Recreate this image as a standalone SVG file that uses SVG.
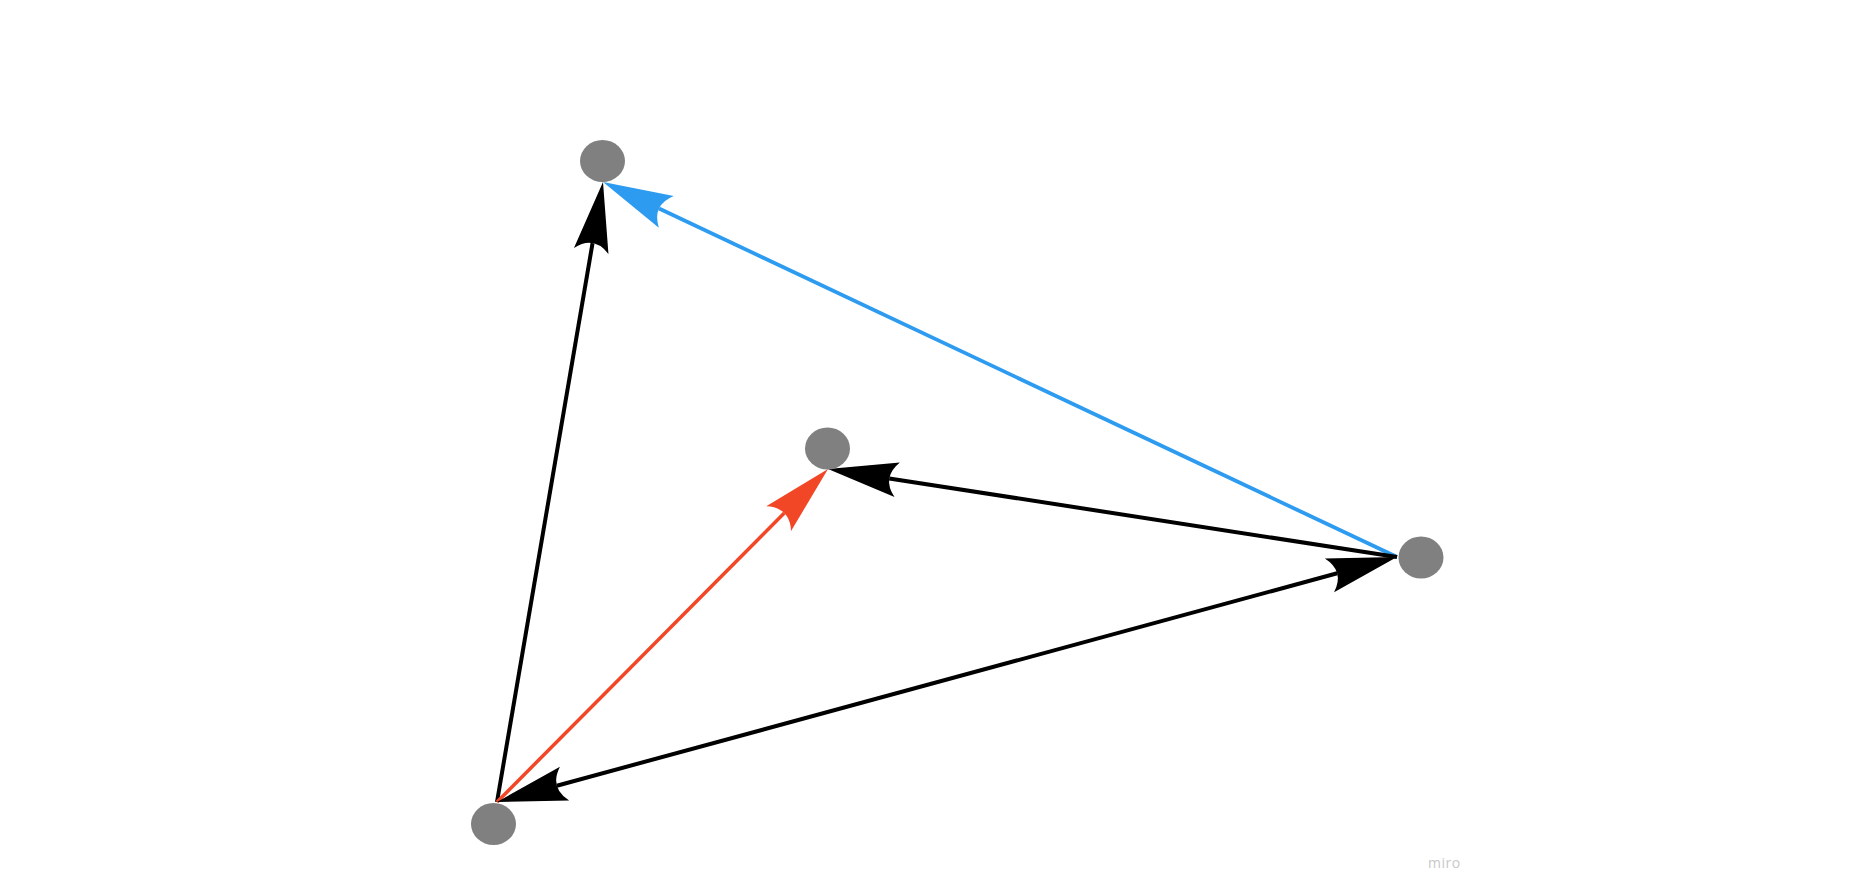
<svg xmlns="http://www.w3.org/2000/svg" width="1860" height="895" viewBox="0 0 1860 895">
  <style>
    .node { fill: #808080; }
    .edge { fill: none; stroke-linecap: butt; }
    .black { stroke: #000000; stroke-width: 4; }
    .blue { stroke: #2d9bf0; stroke-width: 3.8; }
    .red { stroke: #f24726; stroke-width: 3.5; }
    .brand { font-family: "Open Sans", "Liberation Sans", sans-serif; font-size: 14px; fill: #c8c8c8; letter-spacing: 0.5px; }
  </style>
  <defs>
    <marker id="ah-black" markerUnits="userSpaceOnUse" markerWidth="80" markerHeight="40" refX="0" refY="0" orient="auto-start-reverse" overflow="visible">
      <path d="M62 0 L-8 -17.5 Q8 0 -8 17.5 Z" fill="#000000"/>
    </marker>
    <marker id="ah-blue" markerUnits="userSpaceOnUse" markerWidth="80" markerHeight="40" refX="0" refY="0" orient="auto" overflow="visible">
      <path d="M62 0 L-8 -17.5 Q8 0 -8 17.5 Z" fill="#2d9bf0"/>
    </marker>
    <marker id="ah-red" markerUnits="userSpaceOnUse" markerWidth="80" markerHeight="40" refX="0" refY="0" orient="auto" overflow="visible">
      <path d="M62 0 L-8 -17.5 Q8 0 -8 17.5 Z" fill="#f24726"/>
    </marker>
  </defs>
  <rect x="0" y="0" width="1860" height="895" fill="#ffffff"/>

  <g id="connectors">
    <path id="edge-bottom-top" class="edge black" d="M497 802 L592.55 243.1" marker-end="url(#ah-black)"/>
    <path id="edge-bottom-middle" class="edge red" d="M497 802 L784.3 513" marker-end="url(#ah-red)"/>
    <path id="edge-right-top" class="edge blue" d="M1397 557 L659.06 208.48" marker-end="url(#ah-blue)"/>
    <path id="edge-right-middle" class="edge black" d="M1397 557 L889.27 478.47" marker-end="url(#ah-black)"/>
    <path id="edge-bottom-right" class="edge black" d="M556.82 785.71 L1337.18 573.29" marker-start="url(#ah-black)" marker-end="url(#ah-black)"/>
  </g>

  <g id="node-top"><ellipse class="node" cx="602.5" cy="161" rx="22.5" ry="21"/></g>
  <g id="node-middle"><ellipse class="node" cx="827.5" cy="448.5" rx="22.5" ry="21"/></g>
  <g id="node-right"><ellipse class="node" cx="1421" cy="557.5" rx="22.5" ry="21"/></g>
  <g id="node-bottom"><ellipse class="node" cx="493.5" cy="824" rx="22.5" ry="21"/></g>

  <text class="brand" x="1428" y="868">miro</text>
</svg>
